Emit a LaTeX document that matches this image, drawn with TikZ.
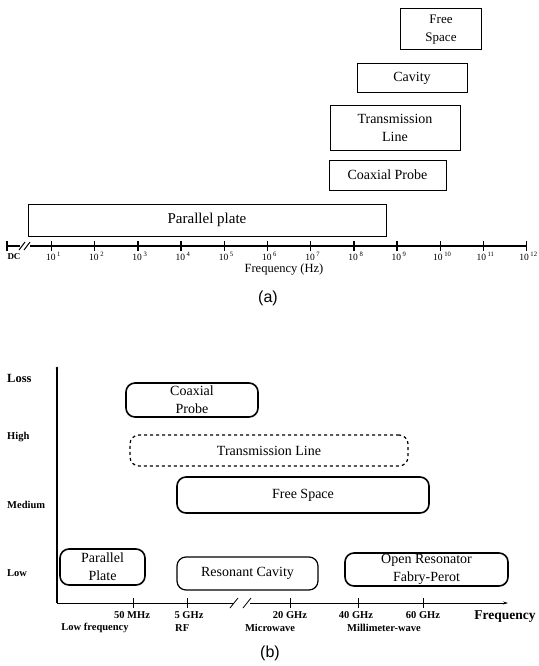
\documentclass[tikz,border=0pt]{standalone}
\usepackage{fontspec}
\setmainfont{Liberation Serif}
\newfontfamily\capfont{Liberation Sans}
\usetikzlibrary{arrows.meta}
\begin{document}
\begin{tikzpicture}[x=1pt,y=-1pt,
doboz/.style={rectangle,draw=black,line width=1pt,inner sep=0pt,align=center,font=\fontsize{14}{18}\selectfont},
kerek/.style={rectangle,draw=black,line width=1.6pt,rounded corners=9pt,inner sep=0pt,align=center,font=\fontsize{14}{18}\selectfont},
felirat/.style={inner sep=1pt,font=\fontsize{9.5}{10}\selectfont},
bfelirat/.style={inner sep=1pt,font=\bfseries\fontsize{10.5}{12}\selectfont}]
\useasboundingbox (0,0) rectangle (538,666);

% (a)
\node[doboz,minimum width=81pt,minimum height=41pt,font=\fontsize{13}{18}\selectfont](fs-a) at (441,29.5){Free\\Space};
\node[doboz,minimum width=110pt,minimum height=29pt](cav-a) at (412,78.5){Cavity};
\node[doboz,minimum width=130pt,minimum height=44pt](tl-a) at (395,128){Transmission\\Line};
\node[doboz,minimum width=117pt,minimum height=30pt](cp-a) at (387.5,175){Coaxial Probe};
\node[doboz,minimum width=358pt,minimum height=32pt,font=\fontsize{15}{18}\selectfont](pp-a) at (207,220){Parallel plate};

\coordinate (dc) at (7,246);
\coordinate (brk-a) at (20,246);
\coordinate (cont-a) at (30,246);
\coordinate (end-a) at (527,246);
\begin{scope}[line width=1.3pt]
\draw (dc)--(brk-a);
\draw (cont-a)--(end-a);
\draw (7,241)--(7,251);
\draw[line width=1pt] (19,250)--(25,242) (24,250)--(30,242);
\draw (51.5,241)--(51.5,251) (94.7,241)--(94.7,251) (137.9,241)--(137.9,251) (181.1,241)--(181.1,251)
      (224.3,241)--(224.3,251) (267.5,241)--(267.5,251) (310.7,241)--(310.7,251) (353.9,241)--(353.9,251)
      (397.1,241)--(397.1,251) (440.3,241)--(440.3,251) (483.5,241)--(483.5,251) (526.7,241)--(526.7,251);
\end{scope}
\node[felirat,font=\bfseries\fontsize{9}{10}\selectfont](dc-l) at (14,257){DC};
\node[felirat](e1) at (53.5,256){10\,\textsuperscript{1}};
\node[felirat](e2) at (96.7,256){10\,\textsuperscript{2}};
\node[felirat](e3) at (139.9,256){10\,\textsuperscript{3}};
\node[felirat](e4) at (183.1,256){10\,\textsuperscript{4}};
\node[felirat](e5) at (226.3,256){10\,\textsuperscript{5}};
\node[felirat](e6) at (269.5,256){10\,\textsuperscript{6}};
\node[felirat](e7) at (312.7,256){10\,\textsuperscript{7}};
\node[felirat](e8) at (355.9,256){10\,\textsuperscript{8}};
\node[felirat](e9) at (399.1,256){10\,\textsuperscript{9}};
\node[felirat](e10) at (442.3,256){10\,\textsuperscript{10}};
\node[felirat](e11) at (485.5,256){10\,\textsuperscript{11}};
\node[felirat](e12) at (528.5,256){10\,\textsuperscript{12}};
\node[font=\fontsize{12.5}{14}\selectfont](freq-a) at (284,270){Frequency (Hz)};
\node[font=\capfont\fontsize{16}{18}\selectfont](cap-a) at (268,298){(a)};

% (b)
\node[kerek,minimum width=132pt,minimum height=34pt](cp-b) at (192,400){Coaxial\\Probe};
\node[kerek,dashed,line width=1.2pt,minimum width=278pt,minimum height=31pt](tl-b) at (269,450.5){Transmission Line};
\node[kerek,minimum width=252pt,minimum height=36pt](fs-b) at (303,495){Free Space};
\node[kerek,minimum width=85pt,minimum height=36pt](pp-b) at (102.5,567){Parallel\\Plate};
\node[kerek,line width=1.2pt,minimum width=141pt,minimum height=33pt](rc-b) at (247.5,573.5){Resonant Cavity};
\node[kerek,minimum width=163pt,minimum height=33pt](or-b) at (426.5,569.5){Open Resonator\\Fabry-Perot};

\coordinate (orig) at (57,603);
\coordinate (ytop) at (57,368);
\coordinate (brk-b) at (234,603);
\coordinate (cont-b) at (250,603);
\coordinate (xend) at (508,603);
\draw[line width=1.2pt] (orig)--(ytop);
\fill (ytop) circle (1.3);
\draw[line width=0.8pt] (orig)--(brk-b);
\draw[line width=0.8pt,-{Stealth[length=5pt,width=3pt]}] (cont-b)--(xend);
\draw[line width=0.8pt] (230,608)--(238,598) (243,608)--(251,598);
\draw[line width=0.8pt] (133,598)--(133,608) (187,598)--(187,608) (290,598)--(290,608)
      (358,598)--(358,608) (423,598)--(423,608);

\node[bfelirat,font=\bfseries\fontsize{12.5}{14}\selectfont,anchor=west](loss) at (6,378){Loss};
\node[bfelirat,anchor=west](high) at (6,437){High};
\node[bfelirat,anchor=west](medium) at (6,505){Medium};
\node[bfelirat,anchor=west](low) at (6,573){Low};

\node[bfelirat](f50m) at (132,615){50 MHz};
\node[bfelirat](f5g) at (189,615){5 GHz};
\node[bfelirat](f20g) at (290,615){20 GHz};
\node[bfelirat](f40g) at (356,615){40 GHz};
\node[bfelirat](f60g) at (423,615){60 GHz};
\node[bfelirat](lowf) at (95,628){Low frequency};
\node[bfelirat,anchor=west](rf) at (174,628){RF};
\node[bfelirat](mw) at (270,628){Microwave};
\node[bfelirat](mmw) at (384,628){Millimeter-wave};
\node[bfelirat,font=\bfseries\fontsize{13.5}{14}\selectfont](freq-b) at (505,617){Frequency};
\node[font=\capfont\fontsize{16}{18}\selectfont](cap-b) at (270,653){(b)};
\end{tikzpicture}
\end{document}
